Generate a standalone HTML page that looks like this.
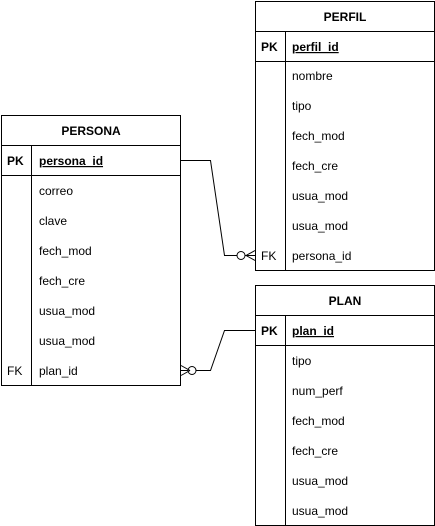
<!DOCTYPE html>
<html><head><meta charset="utf-8"><style>
html,body{margin:0;padding:0;background:#fff;}
svg{display:block}
text{font-family:"Liberation Sans",Arial,sans-serif;font-size:12px;fill:#000}
</style></head><body>
<svg width="435" height="526" viewBox="0 0 435 526" xmlns="http://www.w3.org/2000/svg">
<g fill="none" stroke="#000" stroke-width="1">
<rect x="1.5" y="115.5" width="179" height="270"/>
<line x1="1.5" y1="145.5" x2="180.5" y2="145.5"/>
<line x1="1.5" y1="175.5" x2="180.5" y2="175.5"/>
<line x1="31.5" y1="145.5" x2="31.5" y2="385.5"/>
<rect x="255.5" y="1.5" width="179" height="269"/>
<line x1="255.5" y1="31.5" x2="434.5" y2="31.5"/>
<line x1="255.5" y1="61.5" x2="434.5" y2="61.5"/>
<line x1="285.5" y1="31.5" x2="285.5" y2="270.5"/>
<rect x="255.5" y="285.5" width="179" height="240"/>
<line x1="255.5" y1="315.5" x2="434.5" y2="315.5"/>
<line x1="255.5" y1="345.5" x2="434.5" y2="345.5"/>
<line x1="285.5" y1="315.5" x2="285.5" y2="525.5"/>
<polyline points="181,160.5 210.5,160.5 224.5,255.5 237,255.5"/>
<circle cx="241" cy="255.5" r="4"/>
<line x1="245" y1="255.5" x2="255" y2="255.5"/>
<line x1="246" y1="255.5" x2="255" y2="250.5"/>
<line x1="246" y1="255.5" x2="255" y2="260.5"/>
<polyline points="255,330.5 224.5,330.5 210.5,370.5 196,370.5"/>
<circle cx="192" cy="370.5" r="4"/>
<line x1="188" y1="370.5" x2="181" y2="370.5"/>
<line x1="190" y1="370.5" x2="181" y2="365.5"/>
<line x1="190" y1="370.5" x2="181" y2="375.5"/>
</g>
<text x="91" y="135" text-anchor="middle" style="font-weight:bold">PERSONA</text>
<text x="7" y="165" style="font-weight:bold">PK</text>
<text x="39" y="165" style="font-weight:bold;text-decoration:underline">persona_id</text>
<text x="39" y="195">correo</text>
<text x="39" y="225">clave</text>
<text x="39" y="255">fech_mod</text>
<text x="39" y="285">fech_cre</text>
<text x="39" y="315">usua_mod</text>
<text x="39" y="345">usua_mod</text>
<text x="7" y="375">FK</text>
<text x="39" y="375">plan_id</text>
<text x="345" y="21" text-anchor="middle" style="font-weight:bold">PERFIL</text>
<text x="261" y="51" style="font-weight:bold">PK</text>
<text x="292" y="51" style="font-weight:bold;text-decoration:underline">perfil_id</text>
<text x="292" y="80">nombre</text>
<text x="292" y="110">tipo</text>
<text x="292" y="140">fech_mod</text>
<text x="292" y="170">fech_cre</text>
<text x="292" y="200">usua_mod</text>
<text x="292" y="230">usua_mod</text>
<text x="261" y="260">FK</text>
<text x="292" y="260">persona_id</text>
<text x="345" y="305" text-anchor="middle" style="font-weight:bold">PLAN</text>
<text x="261" y="335" style="font-weight:bold">PK</text>
<text x="292" y="335" style="font-weight:bold;text-decoration:underline">plan_id</text>
<text x="292" y="365">tipo</text>
<text x="292" y="395">num_perf</text>
<text x="292" y="425">fech_mod</text>
<text x="292" y="455">fech_cre</text>
<text x="292" y="485">usua_mod</text>
<text x="292" y="515">usua_mod</text>
</svg>
</body></html>
